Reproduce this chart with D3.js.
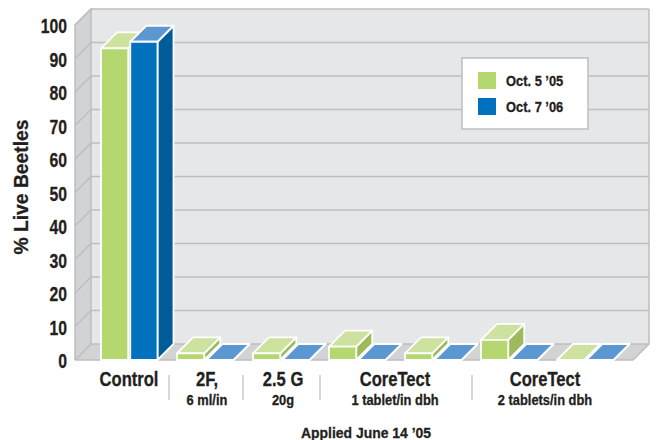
<!DOCTYPE html>
<html>
<head>
<meta charset="utf-8">
<script src="https://cdn.jsdelivr.net/npm/d3@7"></script>
<style>
  html, body { margin: 0; padding: 0; background: #fff; }
  text { font-family: "Liberation Sans", sans-serif; font-weight: bold; fill: #231f20; stroke: #231f20; stroke-width: 0.3px; }
</style>
</head>
<body>
<svg width="656" height="440"></svg>
<script>
const categories = ["Control", "2F", "2.5 G", "CoreTect 1", "CoreTect 1b", "CoreTect 2", "CoreTect 2b"];
const seriesNames = ["Oct. 5 \u201905", "Oct. 7 \u201906"];
const oct05 = [93, 2, 2, 4, 2, 6, 0];
const oct06 = [95, 0, 0, 0, 0, 0, 0];
const yTicks = [0, 10, 20, 30, 40, 50, 60, 70, 80, 90, 100];
const mainLabels = [["Control", 129], ["2F,", 207], ["2.5 G", 283], ["CoreTect", 395], ["CoreTect", 545]];
const subLabels = [["6 ml/in", 207], ["20g", 283], ["1 tablet/in dbh", 395], ["2 tablets/in dbh", 545]];
const separators = [169, 243, 320, 472];

const svg = d3.select("svg");
const depth = 16;
const y = d3.scaleLinear().domain([0, 100]).range([360, 25]);
const x0 = d3.scaleBand().domain(categories).range([87, 619]);
const x1 = d3.scaleBand().domain(seriesNames).range([14, 70.5]).paddingInner(0.07);
const xLeft = 75, xRight = 633;

const poly = pts => pts.map(p => p.join(",")).join(" ");

// no condensed font is installed, so squeeze the text sideways
function label(px, py, str, size, squeeze, anchor) {
  return svg.append("text")
    .attr("transform", `translate(${px},${py}) scale(${squeeze},1)`)
    .attr("text-anchor", anchor || "middle")
    .attr("font-size", size)
    .text(str);
}

// walls and floor
svg.append("polygon")
  .attr("points", poly([[xLeft + depth, y(100) - depth], [xRight + depth, y(100) - depth], [xRight + depth, y(0) - depth], [xLeft + depth, y(0) - depth]]))
  .attr("fill", "#e6e7e8");
svg.append("polygon")
  .attr("points", poly([[xLeft, y(100)], [xLeft + depth, y(100) - depth], [xLeft + depth, y(0) - depth], [xLeft, y(0)]]))
  .attr("fill", "#d1d3d4");
svg.append("polygon")
  .attr("points", poly([[xLeft, y(0)], [xLeft + depth, y(0) - depth], [xRight + depth, y(0) - depth], [xRight, y(0)]]))
  .attr("fill", "#d1d3d4");

// grid
const grid = svg.append("g").attr("fill", "none").attr("stroke", "#bcbec0").attr("stroke-width", 1.5);
yTicks.forEach(t => {
  grid.append("polyline")
    .attr("points", poly([[xLeft, y(t)], [xLeft + depth, y(t) - depth], [xRight + depth, y(t) - depth]]));
});
grid.append("polyline")
  .attr("points", poly([[xLeft, y(0)], [xLeft, y(100)], [xLeft + depth, y(100) - depth], [xLeft + depth, y(0) - depth]]));
grid.append("polyline")
  .attr("points", poly([[xLeft, y(0)], [xRight, y(0)], [xRight + depth, y(0) - depth], [xRight + depth, y(100) - depth]]));

// legend
svg.append("rect").attr("x", 462).attr("y", 58).attr("width", 126).attr("height", 71)
  .attr("fill", "#fff").attr("stroke", "#bcbec0").attr("stroke-width", 1.5);
const colors = [
  { front: "#b5d76f", side: "#9dba5c", top: "#cde29e" },
  { front: "#0071bc", side: "#005c99", top: "#5b97d0" }
];
seriesNames.forEach((s, i) => {
  const ly = 72 + i * 26;
  svg.append("rect").attr("x", 478).attr("y", ly).attr("width", 18).attr("height", 17).attr("fill", colors[i].front);
  label(506, ly + 14, s, 15, 0.86, "start");
});

// bars
[oct05, oct06].forEach((values, si) => {
  const c = colors[si];
  const bar = svg.append("g").selectAll("g").data(values).join("g")
    .attr("stroke", "#fff").attr("stroke-width", 1.8).attr("stroke-linejoin", "round");
  const L = (d, i) => x0(categories[i]) + x1(seriesNames[si]);
  const R = (d, i) => L(d, i) + x1.bandwidth();
  bar.append("polygon").attr("fill", c.side)
    .attr("points", (d, i) => poly([[R(d, i), y(d)], [R(d, i) + depth, y(d) - depth], [R(d, i) + depth, y(0) - depth], [R(d, i), y(0)]]));
  bar.append("polygon").attr("fill", c.top)
    .attr("points", (d, i) => poly([[L(d, i), y(d)], [L(d, i) + depth, y(d) - depth], [R(d, i) + depth, y(d) - depth], [R(d, i), y(d)]]));
  bar.append("rect").attr("fill", c.front)
    .attr("x", L).attr("y", d => y(d)).attr("width", x1.bandwidth()).attr("height", d => y(0) - y(d));
});

// y axis
const axis = svg.append("g").attr("transform", "translate(67,0)")
  .call(d3.axisLeft(y).tickValues(yTicks).tickSize(0).tickPadding(0));
axis.select(".domain").remove();
axis.attr("font-family", null);
axis.selectAll("text").attr("font-size", 21).attr("x", 0).attr("dy", "0.36em").attr("transform", "scale(0.75,1)");

svg.append("text").attr("transform", "translate(28,187) rotate(-90) scale(0.92,1)")
  .attr("text-anchor", "middle").attr("font-size", 21).text("% Live Beetles");

// x labels
mainLabels.forEach(([t, cx]) => label(cx, 386, t, 20, 0.83));
subLabels.forEach(([t, cx]) => label(cx, 405, t, 14, 0.92));
separators.forEach(sx => {
  svg.append("line").attr("x1", sx).attr("x2", sx).attr("y1", 375).attr("y2", 400)
    .attr("stroke", "#bcbec0").attr("stroke-width", 1.2);
});
label(366, 438, "Applied June 14 \u201905", 15, 0.93);
</script>
</body>
</html>
